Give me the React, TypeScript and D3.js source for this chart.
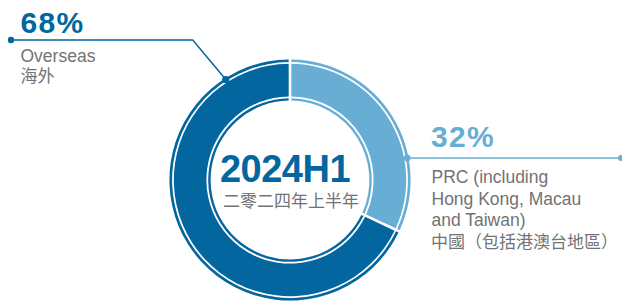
import * as d3 from 'd3';

const categories = ['Overseas', 'PRC'];
const categoriesZh = ['海外', '中國（包括港澳台地區）'];
const values = [68, 32];
const percentLabels = ['68%', '32%'];
const enLines = [['Overseas'], ['PRC (including', 'Hong Kong, Macau', 'and Taiwan)']];
const centerTitle = '2024H1';
const centerSub = '二零二四年上半年';

const W = 622;
const H = 301;
const cx = 290;
const cy = 180;
const colors = ['#03669f', '#68aed4'];
const gray = '#727375';
const latin = '"Liberation Sans", Arial, Helvetica, sans-serif';
const cjk = '"Noto Sans CJK TC", "Noto Sans CJK SC", sans-serif';

// rings: [inner, outer]
const rings: [number, number][] = [
  [79.4, 81.8],
  [83.6, 116.2],
  [117.9, 120.6],
];

const deg = Math.PI / 180;
// callout anchor angles (clockwise from 12 o'clock) on the outer ring
const anchorAngles = [-32.6 * deg, 79.4 * deg];

const pt = (a: number, r: number): [number, number] => [cx + r * Math.sin(a), cy - r * Math.cos(a)];

export default function App() {
  const pie = d3
    .pie<number>()
    .sort(null)
    .value((d) => d)
    .startAngle(0)
    .endAngle(-2 * Math.PI);
  const arcs = pie(values);

  const arcGen = d3
    .arc<any>()
    .padRadius(100)
    .padAngle(2.6 / 100);

  const rAnchor = (rings[2][0] + rings[2][1]) / 2;
  const a0 = pt(anchorAngles[0], rAnchor);
  const a1 = pt(anchorAngles[1], rAnchor);
  const elbow0: [number, number] = [a0[0] - 33, a0[1] - 39.5];
  const end0: [number, number] = [11, elbow0[1]];
  const end1: [number, number] = [621, a1[1]];

  return (
    <svg width={W} height={H} style={{ position: 'absolute', left: 0, top: 0 }}>
      <rect width={W} height={H} fill="#fff" />
      {arcs.map((a, i) =>
        rings.map(([ri, ro], j) => (
          <path
            key={`${i}-${j}`}
            transform={`translate(${cx},${cy})`}
            d={arcGen({ ...a, innerRadius: ri, outerRadius: ro }) as string}
            fill={colors[i]}
          />
        ))
      )}

      {/* center */}
      <text x={285} y={182} textAnchor="middle" fontFamily={latin} fontWeight={700} fontSize={38} fill={colors[0]} letterSpacing={-0.5}>
        {centerTitle}
      </text>
      <text x={291} y={207} textAnchor="middle" fontFamily={cjk} fontSize={17} fill={gray}>
        {centerSub}
      </text>

      {/* Overseas callout */}
      <polyline
        points={[a0, elbow0, end0].map((p) => p.join(',')).join(' ')}
        fill="none"
        stroke={colors[0]}
        strokeWidth={1.5}
      />
      <circle cx={a0[0]} cy={a0[1]} r={3.6} fill={colors[0]} />
      <circle cx={end0[0]} cy={end0[1]} r={3.2} fill={colors[0]} />
      <text x={20.5} y={33} fontFamily={latin} fontWeight={700} fontSize={30} letterSpacing={1.3} fill={colors[0]}>
        {percentLabels[0]}
      </text>
      {enLines[0].map((t, k) => (
        <text key={k} x={20.5} y={62 + k * 21.5} fontFamily={latin} fontSize={17.5} fill={gray}>
          {t}
        </text>
      ))}
      <text x={20.5} y={81.5} fontFamily={cjk} fontSize={17} fill={gray}>
        {categoriesZh[0]}
      </text>

      {/* PRC callout */}
      <line x1={a1[0]} y1={a1[1]} x2={end1[0]} y2={end1[1]} stroke={colors[1]} strokeWidth={1.5} />
      <circle cx={a1[0]} cy={a1[1]} r={3.4} fill={colors[1]} />
      <circle cx={end1[0]} cy={end1[1]} r={3} fill={colors[1]} />
      <text x={431} y={146.5} fontFamily={latin} fontWeight={700} fontSize={30} letterSpacing={1.3} fill={colors[1]}>
        {percentLabels[1]}
      </text>
      {enLines[1].map((t, k) => (
        <text key={k} x={431.5} y={183 + k * 21.5} fontFamily={latin} fontSize={17.5} fill={gray}>
          {t}
        </text>
      ))}
      <text x={431} y={248} fontFamily={cjk} fontSize={17} fill={gray} data-category={categories[1]}>
        {categoriesZh[1]}
      </text>
    </svg>
  );
}
